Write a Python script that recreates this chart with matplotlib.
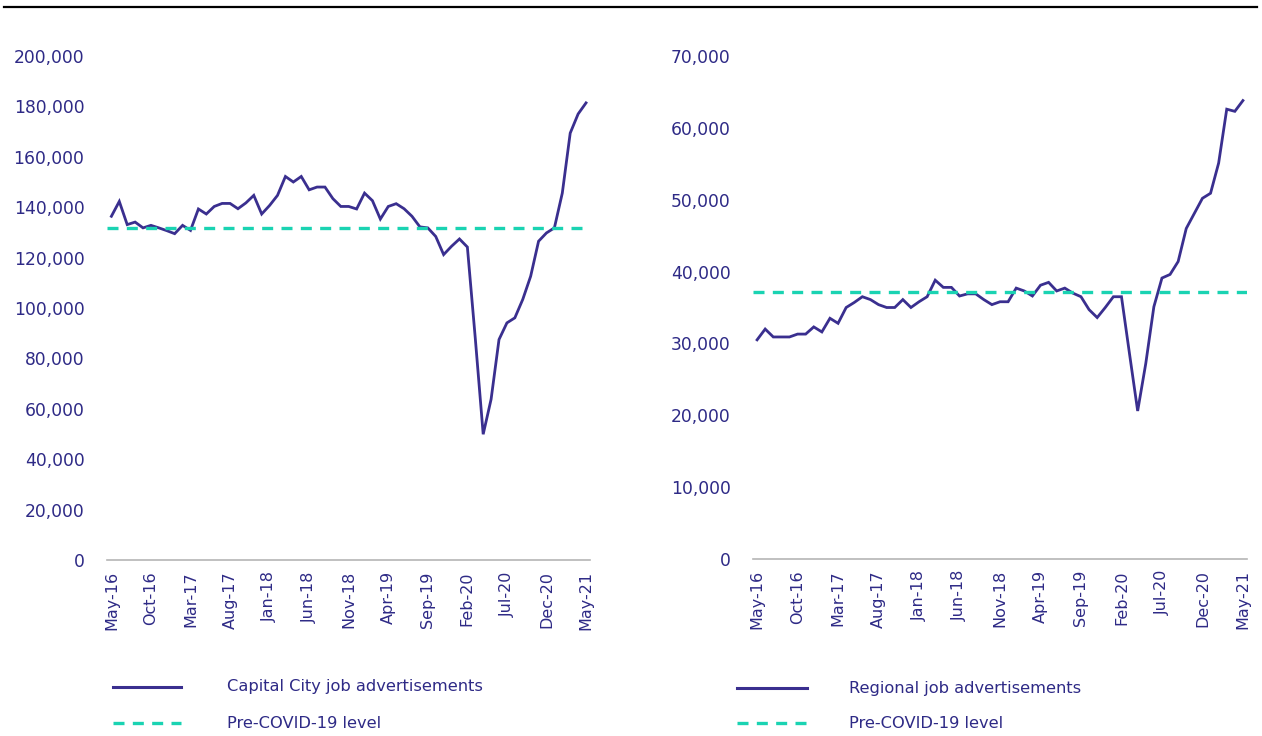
import matplotlib
matplotlib.use("Agg")
import matplotlib.pyplot as plt
from matplotlib.lines import Line2D
from matplotlib.ticker import FuncFormatter

# monthly, May-16 .. May-21
months = ["May-16", "Jun-16", "Jul-16", "Aug-16", "Sep-16", "Oct-16", "Nov-16", "Dec-16",
          "Jan-17", "Feb-17", "Mar-17", "Apr-17", "May-17", "Jun-17", "Jul-17", "Aug-17",
          "Sep-17", "Oct-17", "Nov-17", "Dec-17", "Jan-18", "Feb-18", "Mar-18", "Apr-18",
          "May-18", "Jun-18", "Jul-18", "Aug-18", "Sep-18", "Oct-18", "Nov-18", "Dec-18",
          "Jan-19", "Feb-19", "Mar-19", "Apr-19", "May-19", "Jun-19", "Jul-19", "Aug-19",
          "Sep-19", "Oct-19", "Nov-19", "Dec-19", "Jan-20", "Feb-20", "Mar-20", "Apr-20",
          "May-20", "Jun-20", "Jul-20", "Aug-20", "Sep-20", "Oct-20", "Nov-20", "Dec-20",
          "Jan-21", "Feb-21", "Mar-21", "Apr-21", "May-21"]

capital = [136400, 142300, 133100, 134100, 131800, 132800, 131800, 130700, 129500, 132800,
           130800, 139300, 137300, 140300, 141500, 141500, 139400, 141700, 144700, 137300,
           140700, 144700, 152200, 150000, 152200, 146900, 148000, 148000, 143400, 140300,
           140300, 139300, 145600, 142600, 135300, 140300, 141400, 139400, 136400, 132200,
           131800, 128400, 121200, 124500, 127400, 124200, 88000, 49900, 63800, 87500,
           94100, 96100, 103400, 112600, 126500, 129800, 131800, 145600, 169400, 177000,
           181400]

regional = [30500, 32000, 30900, 30900, 30900, 31300, 31300, 32300, 31600, 33500,
            32800, 35000, 35700, 36500, 36100, 35400, 35000, 35000, 36100, 35000,
            35800, 36500, 38800, 37800, 37800, 36600, 36900, 36900, 36100, 35400,
            35800, 35800, 37700, 37300, 36600, 38100, 38500, 37300, 37700, 37000,
            36500, 34700, 33600, 35000, 36500, 36500, 28500, 20600, 27200, 35100,
            39100, 39600, 41400, 46000, 48100, 50200, 50900, 55100, 62600, 62300,
            63800]

capital_pre_covid = 131800
regional_pre_covid = 37200

navy = "#3a2f8f"
teal = "#1ad3b2"
txt = "#2e2a86"

fig = plt.figure(figsize=(12.62, 7.36), dpi=100)

# thin rule across the top
fig.add_artist(Line2D([0.003, 0.996], [0.9905, 0.9905], color="black", lw=1.6))

x = list(range(len(months)))
tick_pos = x[::5]
tick_lab = months[::5]


def style(ax, ymax, ystep, xmin):
    ax.set_xlim(xmin, 60.5)
    ax.set_ylim(0, ymax)
    ax.set_yticks(range(0, ymax + 1, ystep))
    ax.yaxis.set_major_formatter(FuncFormatter(lambda v, p: f"{int(v):,}"))
    ax.set_xticks(tick_pos)
    ax.set_xticklabels(tick_lab, rotation=90, family="DejaVu Sans", fontsize=11.5, color=txt)
    for s in ["top", "right", "left"]:
        ax.spines[s].set_visible(False)
    ax.spines["bottom"].set_color("#b5b5b5")
    ax.spines["bottom"].set_linewidth(1.2)
    ax.tick_params(axis="y", length=0, pad=16, labelsize=12.3, labelcolor=txt)
    ax.tick_params(axis="x", length=0, pad=8)


ax1 = fig.add_axes([0.0845, 0.2391, 0.383, 0.6848])
ax1.plot(x, capital, color=navy, lw=2.0, solid_joinstyle="miter")
ax1.axhline(capital_pre_covid, color=teal, lw=2.4, dashes=(3.3, 2.5))
style(ax1, 200000, 20000, -0.6)

ax2 = fig.add_axes([0.5967, 0.2405, 0.3914, 0.6834])
ax2.plot(x, regional, color=navy, lw=2.0, solid_joinstyle="miter")
ax2.axhline(regional_pre_covid, color=teal, lw=2.4, dashes=(3.3, 2.5))
style(ax2, 70000, 10000, -0.5)

# legends drawn by hand, under each panel
W, H = 1262, 736


def legend(x0, x1, xt, y_solid, y_dash, label):
    fig.add_artist(Line2D([x0 / W, x1 / W], [1 - y_solid / H] * 2, color=navy, lw=2.2))
    fig.add_artist(Line2D([x0 / W, x1 / W], [1 - y_dash / H] * 2, color=teal, lw=2.4,
                          dashes=(3.3, 2.5)))
    fig.text(xt / W, 1 - y_solid / H, label, ha="left", va="center", fontsize=11.7, color=txt)
    fig.text(xt / W, 1 - y_dash / H, "Pre-COVID-19 level", ha="left", va="center",
             fontsize=11.7, color=txt)


legend(113, 181, 227, 687, 723, "Capital City job advertisements")
legend(737, 807, 849, 688, 723, "Regional job advertisements")

fig.savefig("out.png", dpi=100)
